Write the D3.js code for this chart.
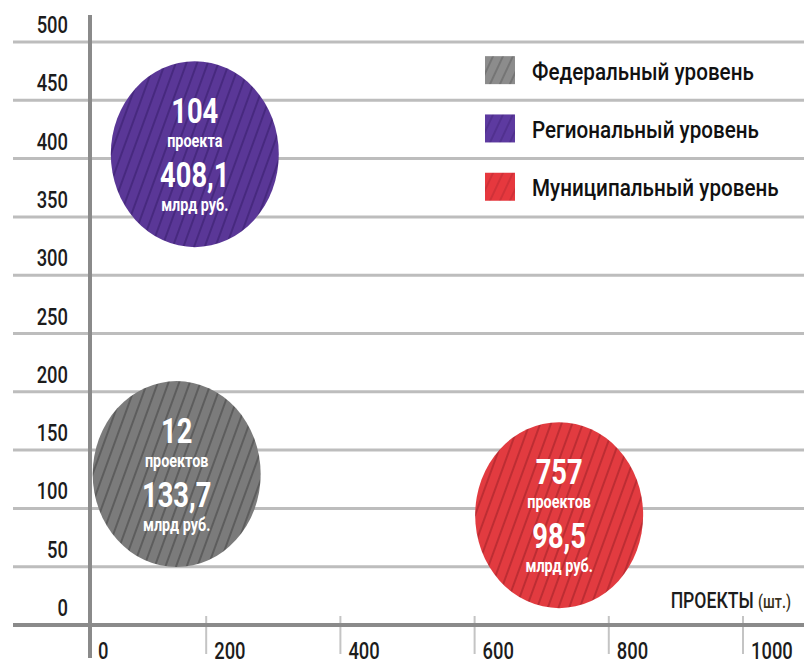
<!DOCTYPE html>
<html>
<head>
<meta charset="utf-8">
<script src="https://cdn.jsdelivr.net/npm/d3@7"></script>
<style>
  body { margin: 0; background: #fff; }
  svg { display: block; }
  text { font-family: Roboto, "DejaVu Sans", sans-serif; }
</style>
</head>
<body>
<div id="chart"></div>
<script>
// levels of the programme
var levels = ["Федеральный уровень", "Региональный уровень", "Муниципальный уровень"];
// number of projects (as printed in the bubbles)
var projects = [12, 104, 757];
var projectWord = ["проектов", "проекта", "проектов"];
// money, bln rub
var money = [133.7, 408.1, 98.5];
// where the bubble centres sit on the projects axis
var xPlotted = [156, 183, 726];
var colors = ["#7b7b7b", "#5a3797", "#e23b40"];
var stripeColors = ["#4a4a4a", "#3a1f70", "#a8222a"];
var legendColors = ["#8c8c8c", "#5d3aa0", "#e6383e"];

var yTicks = [0, 50, 100, 150, 200, 250, 300, 350, 400, 450, 500];
var xTicks = [200, 400, 600, 800, 1000];

var svgWidth = 804;
var svgHeight = 664;
var squeeze = 0.8; // the original uses a condensed face

var svg = d3.select("#chart")
  .append("svg")
  .attr("width", svgWidth)
  .attr("height", svgHeight);

var yScale = d3.scaleLinear().domain([0, 500]).range([625, 42]);
var xScale = d3.scaleLinear().domain([0, 1000]).range([72, 743]);
var axisX = 90;

function at(x, y, s) {
  return `translate(${x}, ${y}) scale(${s || squeeze}, 1)`;
}

// hatch patterns
var defs = svg.append("defs");
colors.forEach(function(c, i) {
  var p = defs.append("pattern")
    .attr("id", "hatch" + i)
    .attr("patternUnits", "userSpaceOnUse")
    .attr("width", 10)
    .attr("height", 10)
    .attr("patternTransform", "rotate(20)");
  p.append("rect").attr("width", 10).attr("height", 10).attr("fill", c);
  p.append("line")
    .attr("x1", 1).attr("y1", 0).attr("x2", 1).attr("y2", 10)
    .attr("stroke", stripeColors[i])
    .attr("stroke-width", 1.5)
    .attr("opacity", 0.85);
});
legendColors.forEach(function(c, i) {
  var p = defs.append("pattern")
    .attr("id", "lhatch" + i)
    .attr("patternUnits", "userSpaceOnUse")
    .attr("width", 9)
    .attr("height", 9)
    .attr("patternTransform", "rotate(25)");
  p.append("rect").attr("width", 9).attr("height", 9).attr("fill", c);
  p.append("line")
    .attr("x1", 1).attr("y1", 0).attr("x2", 1).attr("y2", 9)
    .attr("stroke", stripeColors[i])
    .attr("stroke-width", 1.3)
    .attr("opacity", 0.55);
});

// horizontal grid
svg.selectAll(".grid")
  .data(yTicks.filter(d => d > 0))
  .enter()
  .append("line")
  .attr("class", "grid")
  .attr("x1", 13).attr("x2", svgWidth)
  .attr("y1", d => yScale(d)).attr("y2", d => yScale(d))
  .attr("stroke", "#bdbdbd")
  .attr("stroke-width", 3);

// y labels sit just above their line
svg.selectAll(".ylab")
  .data(yTicks)
  .enter()
  .append("text")
  .attr("class", "ylab")
  .attr("transform", d => at(68, yScale(d) - 9))
  .attr("text-anchor", "end")
  .attr("font-size", 23)
  .attr("font-weight", 500)
  .attr("fill", "#1c1c1c")
  .text(d => d);

// x tick marks
svg.selectAll(".xtick")
  .data(xTicks)
  .enter()
  .append("line")
  .attr("class", "xtick")
  .attr("x1", d => xScale(d)).attr("x2", d => xScale(d))
  .attr("y1", 616).attr("y2", 654)
  .attr("stroke", "#c4c4c4")
  .attr("stroke-width", 2);

svg.selectAll(".xlab")
  .data(xTicks)
  .enter()
  .append("text")
  .attr("class", "xlab")
  .attr("transform", d => at(xScale(d) + 8, 659))
  .attr("font-size", 23)
  .attr("font-weight", 500)
  .attr("fill", "#1c1c1c")
  .text(d => d);

svg.append("text")
  .attr("transform", at(axisX + 8, 659))
  .attr("font-size", 23)
  .attr("font-weight", 500)
  .attr("fill", "#1c1c1c")
  .text("0");

// axes
svg.append("line")
  .attr("x1", 13).attr("x2", svgWidth)
  .attr("y1", yScale(0)).attr("y2", yScale(0))
  .attr("stroke", "#8a8a8a")
  .attr("stroke-width", 4);

svg.append("line")
  .attr("x1", axisX).attr("x2", axisX)
  .attr("y1", 15).attr("y2", 658)
  .attr("stroke", "#8a8a8a")
  .attr("stroke-width", 4);

// x axis title
var xt = svg.append("text")
  .attr("transform", at(791, 608))
  .attr("text-anchor", "end")
  .attr("font-weight", 500)
  .attr("fill", "#1c1c1c");
xt.append("tspan").attr("font-size", 22).text("ПРОЕКТЫ ");
xt.append("tspan").attr("font-size", 18).attr("fill", "#3a3220").text("(шт.)");

// legend
var legend = svg.selectAll(".legend")
  .data(levels)
  .enter()
  .append("g")
  .attr("class", "legend")
  .attr("transform", (d, i) => `translate(485, ${(yScale(500 - 50 * i) + yScale(450 - 50 * i)) / 2})`);

legend.append("rect")
  .attr("x", 0).attr("y", -15)
  .attr("width", 30).attr("height", 28)
  .attr("fill", (d, i) => `url(#lhatch${i})`);

legend.append("text")
  .attr("transform", at(47, 8.5, 0.86))
  .attr("font-size", 24)
  .attr("font-weight", 500)
  .attr("fill", "#111")
  .text(d => d);

// bubbles
var bubbles = svg.selectAll(".bubble")
  .data(levels)
  .enter()
  .append("g")
  .attr("class", "bubble")
  .attr("transform", (d, i) => `translate(${xScale(xPlotted[i])}, ${yScale(money[i]) + 5})`);

bubbles.append("ellipse")
  .attr("rx", 84)
  .attr("ry", 93)
  .attr("fill", (d, i) => `url(#hatch${i})`);

bubbles.append("text")
  .attr("transform", at(0, -31, 0.78))
  .attr("text-anchor", "middle")
  .attr("font-size", 35)
  .attr("font-weight", "bold")
  .attr("fill", "#fff")
  .text((d, i) => projects[i]);

bubbles.append("text")
  .attr("transform", at(0, -7))
  .attr("text-anchor", "middle")
  .attr("font-size", 18)
  .attr("font-weight", "bold")
  .attr("fill", "#fff")
  .text((d, i) => projectWord[i]);

bubbles.append("text")
  .attr("transform", at(0, 33, 0.78))
  .attr("text-anchor", "middle")
  .attr("font-size", 35)
  .attr("font-weight", "bold")
  .attr("fill", "#fff")
  .text((d, i) => String(money[i]).replace(".", ","));

bubbles.append("text")
  .attr("transform", at(0, 57))
  .attr("text-anchor", "middle")
  .attr("font-size", 18)
  .attr("font-weight", "bold")
  .attr("fill", "#fff")
  .text("млрд руб.");
</script>
</body>
</html>
